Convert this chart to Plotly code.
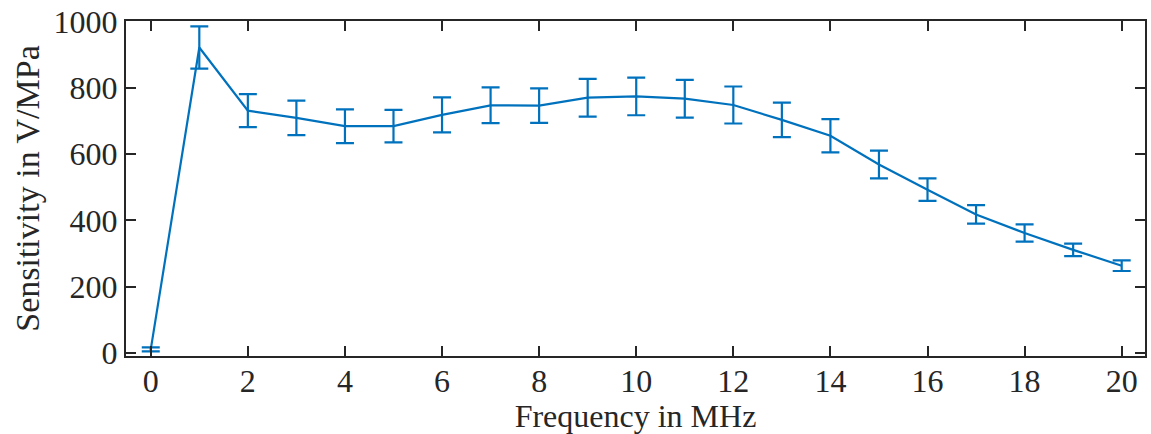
import plotly.graph_objects as go

freq = list(range(0, 21))
sens = [10, 923, 732, 710, 685, 685, 719, 748, 747, 771, 775, 768, 749, 704, 656, 569, 493, 418, 362, 311, 263]
err = [6, 64, 50, 52, 51, 49, 53, 54, 52, 57, 57, 57, 56, 52, 50, 42, 34, 28, 26, 19, 16]

x_ticks = [0, 2, 4, 6, 8, 10, 12, 14, 16, 18, 20]
y_ticks = [0, 200, 400, 600, 800, 1000]

blue = "#0072BD"
dark = "#262626"
font_family = "Liberation Serif"

fig = go.Figure()
fig.add_trace(go.Scatter(
    x=freq, y=sens, mode="lines",
    line=dict(color=blue, width=2.2),
    error_y=dict(type="data", array=err, visible=True, color=blue, thickness=2.2, width=9),
    showlegend=False,
))

axis_common = dict(
    showline=True, linewidth=2, linecolor=dark, mirror="ticks",
    ticks="inside", ticklen=10, tickwidth=2, tickcolor=dark,
    showgrid=False, zeroline=False,
    tickfont=dict(family=font_family, size=32, color=dark),
)

fig.update_layout(
    width=1151, height=434,
    margin=dict(l=126, r=4, t=20, b=78),
    paper_bgcolor="white", plot_bgcolor="white",
    font=dict(family=font_family, size=32, color=dark),
    xaxis=dict(range=[-0.51, 20.48], tickvals=x_ticks, ticktext=[str(v) for v in x_ticks],
               ticklabelstandoff=-4,
               title=dict(text="Frequency in MHz", font=dict(family=font_family, size=32, color=dark), standoff=0),
               **axis_common),
    yaxis=dict(range=[-10, 1003], tickvals=y_ticks, ticktext=[str(v) for v in y_ticks],
               title=dict(text="Sensitivity in V/MPa", font=dict(family=font_family, size=34, color=dark), standoff=4),
               **axis_common),
)

fig.write_html("out.html")
